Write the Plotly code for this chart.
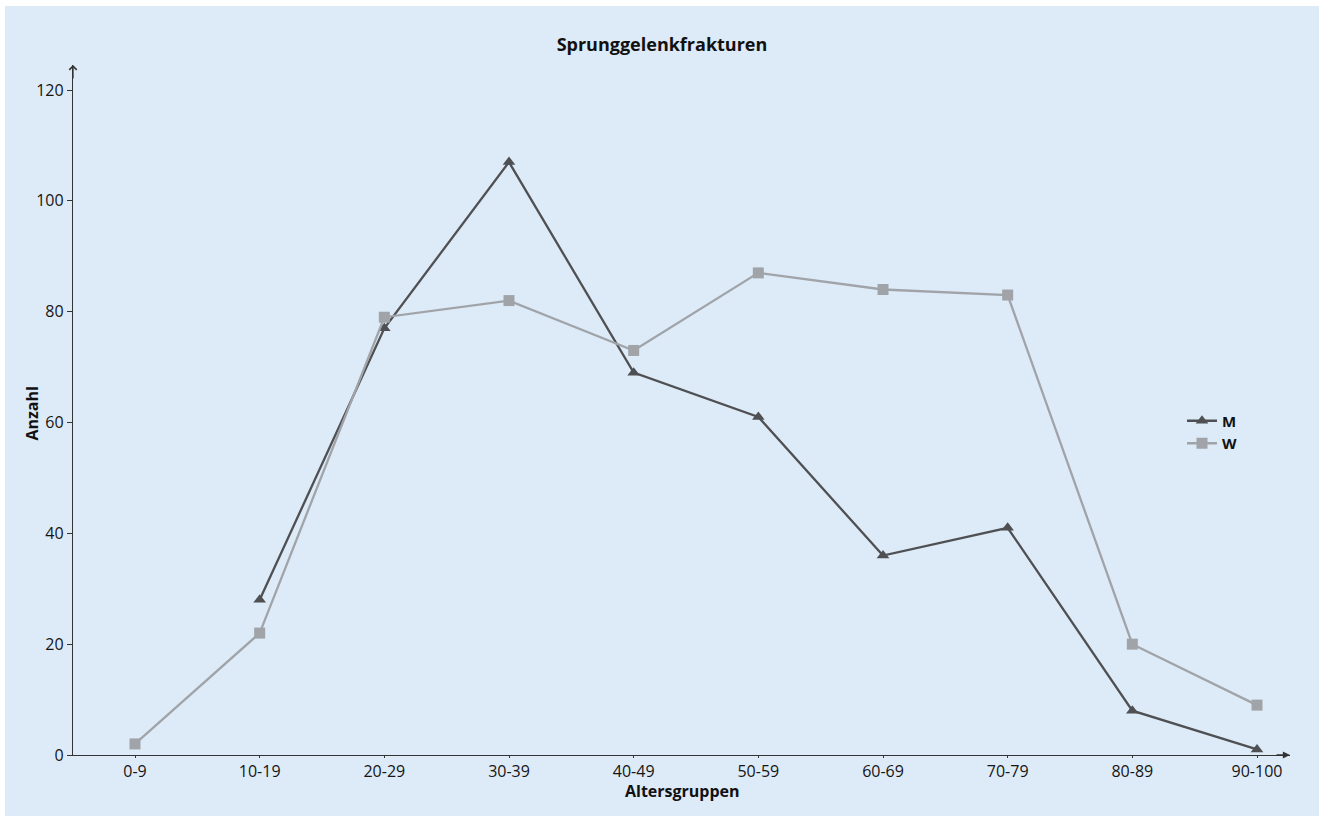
import plotly.graph_objects as go

categories = ["0-9", "10-19", "20-29", "30-39", "40-49", "50-59", "60-69", "70-79", "80-89", "90-100"]
m_values = [None, 28, 77, 107, 69, 61, 36, 41, 8, 1]
w_values = [2, 22, 79, 82, 73, 87, 84, 83, 20, 9]
y_ticks = [0, 20, 40, 60, 80, 100, 120]

W, H = 1319, 816
ML, MR, MT, MB = 73, 29, 65, 61
PW, PH = W - ML - MR, H - MT - MB

def px_x(p):
    return (p - ML) / PW

def px_y(p):
    return (H - MB - p) / PH

BG = "#ddeaf7"
AX = "#333333"
FONT = "Open Sans, Liberation Sans, sans-serif"
TXT = "#151515"

xs = list(range(len(categories)))
step = (1257 - 135) / 9.0
x_range = [(ML - 135) / step, (W - MR - 135) / step]
y_range = [0, 20 * (755 - 65) / ((755 - 90) / 6)]

fig = go.Figure()
fig.add_trace(go.Scatter(
    x=xs, y=m_values, name="M", mode="lines+markers",
    line=dict(color="#4f5053", width=2.3),
    marker=dict(symbol="triangle-up", size=11, color="#4f5053"),
))
fig.add_trace(go.Scatter(
    x=xs, y=w_values, name="W", mode="lines+markers",
    line=dict(color="#a0a4a9", width=2.3),
    marker=dict(symbol="square", size=11, color="#a0a4a9"),
))

fig.update_layout(
    width=W, height=H,
    margin=dict(l=ML, r=MR, t=MT, b=MB, autoexpand=False),
    paper_bgcolor="white",
    plot_bgcolor="rgba(0,0,0,0)",
    font=dict(family=FONT, size=16, color=TXT),
    title=dict(text="Sprunggelenkfrakturen", x=662 / W, xref="container", xanchor="center",
               y=1 - 45 / H, yref="container", yanchor="middle",
               font=dict(family=FONT, size=18, weight="bold", color="#111111")),
    showlegend=True,
    legend=dict(x=px_x(1182), y=px_y(432), xanchor="left", yanchor="middle",
                bgcolor="rgba(0,0,0,0)", itemwidth=30,
                font=dict(family=FONT, size=15, weight="bold", color="#111111"),
                tracegroupgap=0),
    shapes=[dict(type="rect", xref="paper", yref="paper", layer="below",
                 x0=px_x(5), x1=px_x(W + 2), y0=px_y(H + 2), y1=px_y(6),
                 fillcolor=BG, line=dict(width=0))],
)

fig.update_xaxes(
    range=x_range,
    tickmode="array", tickvals=xs, ticktext=categories,
    showline=True, linecolor=AX, linewidth=1.3,
    ticks="outside", ticklen=2, tickcolor=AX, tickwidth=1,
    showgrid=False, zeroline=False,
    tickfont=dict(family=FONT, size=16, color=TXT),
)
fig.update_yaxes(
    range=y_range,
    tickmode="array", tickvals=y_ticks,
    showline=True, linecolor=AX, linewidth=1.3,
    ticks="outside", ticklen=5, tickcolor=AX, tickwidth=1,
    showgrid=False, zeroline=False,
    tickfont=dict(family=FONT, size=16, color=TXT),
)

# axis titles
fig.add_annotation(xref="paper", yref="paper", x=px_x(682), y=px_y(791),
                   text="Altersgruppen", showarrow=False, xanchor="center", yanchor="middle",
                   font=dict(family=FONT, size=16, weight="bold", color="#111111"))
fig.add_annotation(xref="paper", yref="paper", x=px_x(31.5), y=px_y(414),
                   text="Anzahl", showarrow=False, xanchor="center", yanchor="middle",
                   textangle=-90,
                   font=dict(family=FONT, size=16, weight="bold", color="#111111"))

# axis arrowheads
fig.add_annotation(xref="paper", yref="paper", x=0, y=1, ax=0, ay=15,
                   showarrow=True, arrowhead=4, arrowsize=1.1, arrowwidth=1.3,
                   arrowcolor=AX, text="")
fig.add_annotation(xref="paper", yref="paper", x=1, y=0, ax=-15, ay=0,
                   showarrow=True, arrowhead=2, arrowsize=1.1, arrowwidth=1.3,
                   arrowcolor=AX, text="")

fig.write_html("out.html", config={"displayModeBar": False},
               post_script="document.body.style.margin='0';")
